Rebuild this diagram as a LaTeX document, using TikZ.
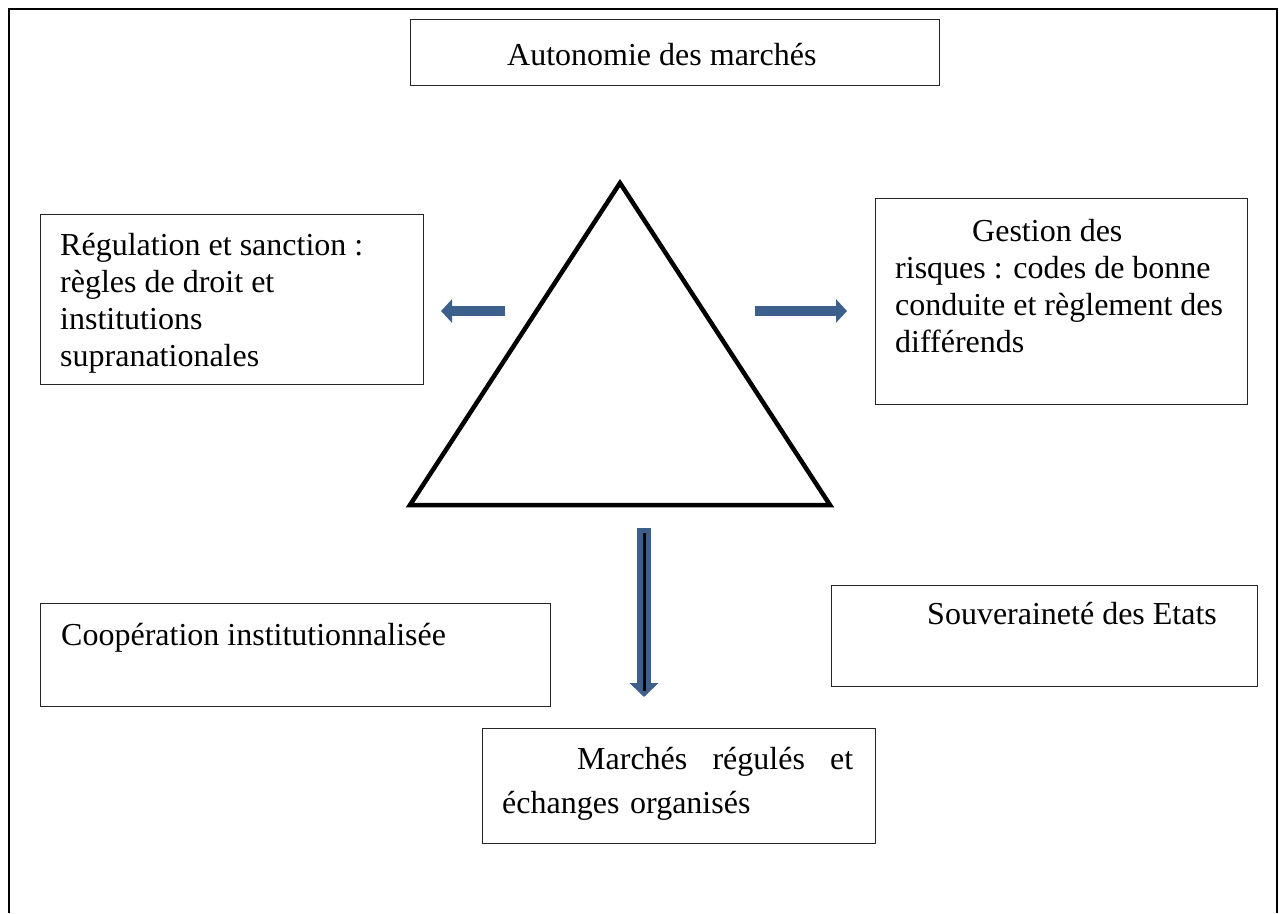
\documentclass[tikz,border=0pt]{standalone}
\usepackage{fontspec}
\setmainfont{Liberation Serif}
\usetikzlibrary{arrows.meta}
\definecolor{arrowblue}{RGB}{60,95,140}

\begin{document}
\begin{tikzpicture}[x=1pt,y=-1pt,
        box/.style={draw=black!85,line width=1.2pt,inner sep=0pt,anchor=north west},
        txt/.style={inner sep=0pt,anchor=base west,align=left,font=\fontsize{32}{37}\selectfont},
        blockarrow/.style={draw=arrowblue,line width=10pt,-{Triangle[length=11pt,width=23pt]}}]
        \useasboundingbox (0,0) rectangle (1279,913);

        % Frame
        \draw[line width=2pt] (9,913) -- (9,9) -- (1277,9) -- (1277,913);

        % Boxes
        \begin{scope}[every node/.style={box}]
            \node[minimum width=529pt,minimum height=66pt] (aut) at (410,19) {};
            \node[minimum width=383pt,minimum height=170pt] (reg) at (40,214) {};
            \node[minimum width=372pt,minimum height=206pt] (ges) at (875,198) {};
            \node[minimum width=510pt,minimum height=103pt] (coop) at (40,603) {};
            \node[minimum width=426pt,minimum height=101pt] (souv) at (831,585) {};
            \node[minimum width=393pt,minimum height=115pt] (march) at (482,728) {};
        \end{scope}

        % Texts (base = last line)
        \node[txt] (aut-t) at (507,65) {Autonomie des marchés};
        \node[txt] (reg-t) at (60,366) {Régulation et sanction :\\règles de droit et\\institutions\\supranationales};
        \node[txt] (ges-t) at (895,352) {\hspace*{77pt}Gestion des\\risques : codes de bonne\\conduite et règlement des\\différends};
        \node[txt] (coop-t) at (61,645) {Coopération institutionnalisée};
        \node[txt] (souv-t) at (927,624) {Souveraineté des Etats};
        \node[txt,text width=351pt,font=\fontsize{32}{44}\selectfont] (march-t) at (502,769)
            {\hspace*{75pt}Marchés\hfill régulés\hfill et\\échanges organisés};

        % Triangle
        \coordinate (apex) at (620,183);
        \coordinate (bl) at (410,505);
        \coordinate (br) at (830,505);
        \draw[line width=4.5pt,line join=miter] (apex) -- (bl) -- (br) -- cycle;

        % Arrows
        \coordinate (l0) at (505,311);
        \coordinate (l1) at (441,311);
        \coordinate (r0) at (755,311);
        \coordinate (r1) at (847,311);
        \coordinate (d0) at (644,528);
        \coordinate (d1) at (644,697);
        \coordinate (k0) at (644,533);
        \coordinate (k1) at (644,691);

        \path (l0) edge[blockarrow] (l1);
        \path (r0) edge[blockarrow] (r1);
        \path (d0) edge[blockarrow,line width=14pt,-{Triangle[length=14pt,width=28pt]}] (d1);
        \path (k0) edge[line width=3pt] (k1);
    \end{tikzpicture}
\end{document}
